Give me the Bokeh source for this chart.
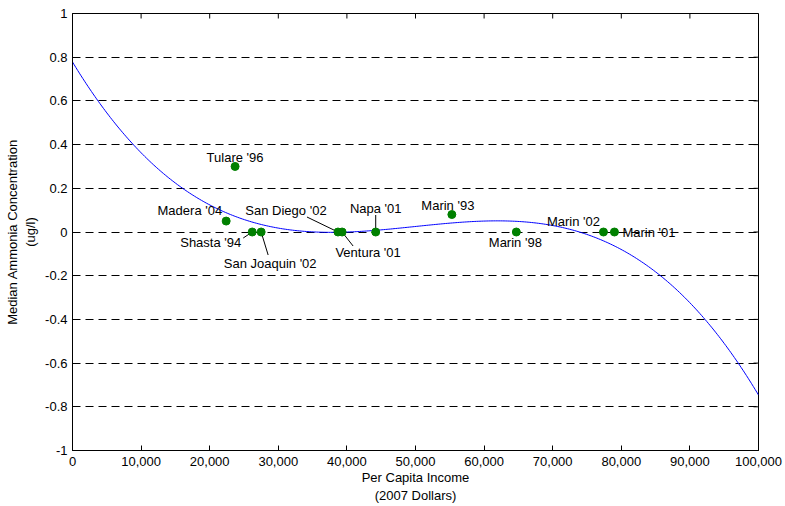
import numpy as np
from bokeh.plotting import figure
from bokeh.models import (ColumnDataSource, FixedTicker, NumeralTickFormatter,
                          Range1d, CustomJSTickFormatter)
from bokeh.core.properties import value
from bokeh.embed import file_html
from bokeh.resources import INLINE

# ---- data ----
sites = ["Tulare '96", "Madera '04", "Shasta '94", "San Joaquin '02", "San Diego '02",
         "Ventura '01", "Napa '01", "Marin '93", "Marin '98", "Marin '02", "Marin '01"]
income = [23700, 22400, 26200, 27500, 38700, 39300, 44200, 55300, 64700, 77400, 79000]
ammonia = [0.30, 0.05, 0.0, 0.0, 0.0, 0.0, 0.0, 0.08, 0.0, 0.0, 0.0]

# cubic trend line coefficients (t = income / 100000)
trend_coef = [0.778, -5.186, 11.06, -7.398]

x_ticks = [0, 10000, 20000, 30000, 40000, 50000, 60000, 70000, 80000, 90000, 100000]
y_ticks = [-1, -0.8, -0.6, -0.4, -0.2, 0, 0.2, 0.4, 0.6, 0.8, 1]

# ---- label placement (screen pixels relative to the point) ----
lab_dx = [0, -4, -11, 9, -52, 26, 0, -4, -1, -30, 8]
lab_dy = [-9, -11, 10, 31, -22, 20, -24, -9, 10, -11, 0]
lab_align = ["center", "right", "right", "center", "center", "center", "center",
             "center", "center", "center", "left"]
lead = {2: (-9, 6), 3: (7, 23), 4: (-31, -15), 5: (11, 14), 6: (0, -17)}

W, H = 785, 506
BL, BR, BT, BB = 72, 27, 13, 56
FW, FH = W - BL - BR, H - BT - BB
X0, X1, Y0, Y1 = 0, 100000, -1, 1
px_x = (X1 - X0) / FW
px_y = (Y1 - Y0) / FH
TICK = 5

FONT = "Liberation Sans"

p = figure(width=W, height=H, output_backend="svg", toolbar_location=None,
           x_range=Range1d(X0, X1), y_range=Range1d(Y0, Y1),
           min_border_left=BL, min_border_right=BR,
           min_border_top=BT, min_border_bottom=BB)
p.background_fill_color = "white"
p.border_fill_color = "white"
p.outline_line_color = "black"
p.outline_line_width = 1

for ax in (p.xaxis[0], p.yaxis[0]):
    ax.major_tick_in = TICK
    ax.major_tick_out = 0
    ax.minor_tick_line_color = None
    ax.axis_line_color = "black"
    ax.major_label_text_font = FONT
    ax.major_label_text_font_size = "13px"
    ax.major_label_text_color = "black"
    ax.axis_label_text_font = FONT
    ax.axis_label_text_font_size = "13px"
    ax.axis_label_text_font_style = "normal"
    ax.axis_label_text_color = "black"

p.xaxis.ticker = FixedTicker(ticks=x_ticks)
p.yaxis.ticker = FixedTicker(ticks=y_ticks)
p.xaxis.formatter = NumeralTickFormatter(format="0,0")
p.yaxis.formatter = CustomJSTickFormatter(code="return String(Math.round(tick*10)/10);")
p.xaxis.major_label_standoff = 6
p.yaxis.major_label_standoff = 5
p.xaxis.axis_label = "Per Capita Income\n(2007 Dollars)"
p.yaxis.axis_label = "Median Ammonia Concentration\n(ug/l)"
p.xaxis.axis_label_standoff = 1
p.yaxis.axis_label_standoff = 4

p.xgrid.grid_line_color = None
p.ygrid.ticker = FixedTicker(ticks=y_ticks)
p.ygrid.grid_line_color = "black"
p.ygrid.grid_line_dash = "8 5"
p.ygrid.grid_line_width = 1

# inward ticks on the top and right edges of the box
p.segment(x_ticks, [Y1] * len(x_ticks), x_ticks, [Y1 - TICK * px_y] * len(x_ticks),
          line_color="black", line_width=1)
p.segment([X1] * len(y_ticks), y_ticks, [X1 - TICK * px_x] * len(y_ticks), y_ticks,
          line_color="black", line_width=1)

# trend curve
xs = np.linspace(X0, X1, 400)
t = xs / 100000.0
ys = sum(c * t ** i for i, c in enumerate(trend_coef))
p.line(xs, ys, line_color="#0000ff", line_width=1)

# leader lines
sx0, sy0, sx1, sy1 = [], [], [], []
for i, (ddx, ddy) in lead.items():
    sx0.append(income[i]); sy0.append(ammonia[i])
    sx1.append(income[i] + ddx * px_x); sy1.append(ammonia[i] - ddy * px_y)
p.segment(sx0, sy0, sx1, sy1, line_color="black", line_width=1)

# points
src = ColumnDataSource(dict(x=income, y=ammonia, name=sites,
                            dx=lab_dx, dy=lab_dy, align=lab_align))
p.scatter("x", "y", source=src, size=8, fill_color="#008000", line_color="#008000")

p.text("x", "y", text="name", source=src, x_offset="dx", y_offset="dy",
       text_align="align", text_baseline="middle",
       text_font=value(FONT), text_font_size="13px", text_color="black")

open("out.html", "w").write(file_html(p, INLINE))
